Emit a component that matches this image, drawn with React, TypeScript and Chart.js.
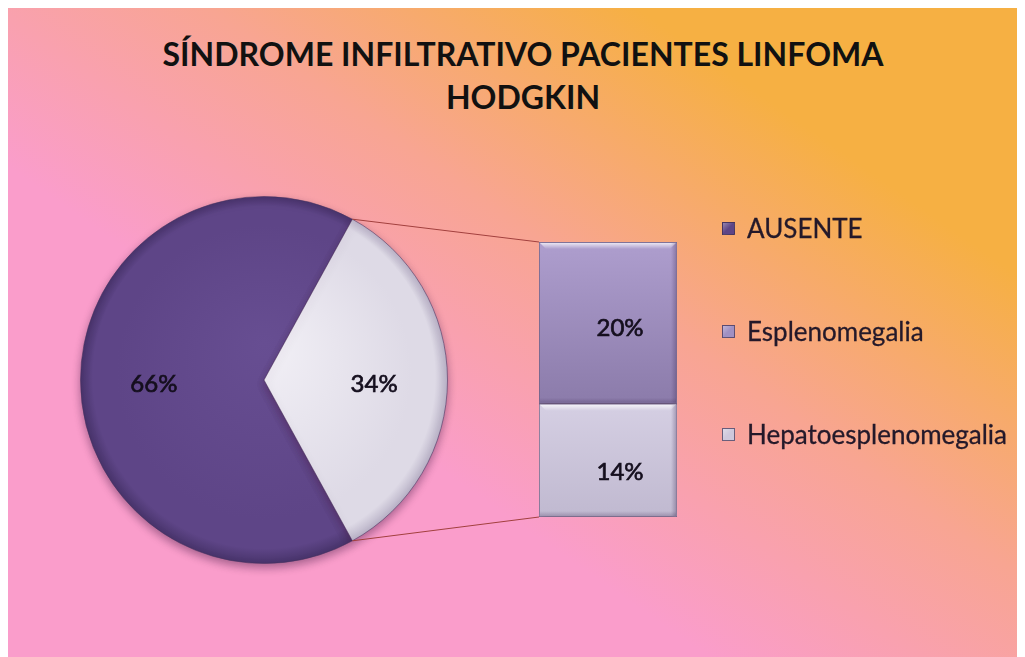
import React, { useEffect, useRef } from 'react';
import { Chart, registerables } from 'chart.js';

Chart.register(...registerables);

// ---- data ----
const categories = ['AUSENTE', 'Esplenomegalia', 'Hepatoesplenomegalia'];
const percentValues = [66, 20, 14];
const titleLines = ['SÍNDROME INFILTRATIVO PACIENTES LINFOMA', 'HODGKIN'];
const seriesColors = ['#5E4586', '#A090C2', '#CEC8DC'];

const W = 1018;
const H = 650;
const FONT = 'Lato, "Open Sans", sans-serif';
const LABEL_COLOR = '#150f1e';

const pct = (v: number) => `${v}%`;

function drawLabel(ctx: CanvasRenderingContext2D, text: string, x: number, y: number) {
  ctx.fillText(text, x, y);
  ctx.strokeText(text, x, y);
}

export default function App() {
  const pieRef = useRef<HTMLCanvasElement | null>(null);
  const barRef = useRef<HTMLCanvasElement | null>(null);

  useEffect(() => {
    if (!pieRef.current || !barRef.current) return;

    const otherTotal = percentValues[1] + percentValues[2];
    const pieData = [percentValues[0], otherTotal];
    const total = pieData[0] + pieData[1];
    const rotation = 180 * (pieData[1] / total) - 270;

    const setLabelStyle = (ctx: CanvasRenderingContext2D) => {
      ctx.font = `400 24px ${FONT}`;
      ctx.fillStyle = LABEL_COLOR;
      ctx.strokeStyle = LABEL_COLOR;
      ctx.lineWidth = 0.7;
      ctx.textAlign = 'center';
      ctx.textBaseline = 'middle';
    };

    const pieShadow = {
      id: 'pieShadow',
      beforeDatasetsDraw(chart: any) {
        const ctx = chart.ctx;
        ctx.save();
        ctx.shadowColor = 'rgba(70,30,70,0.45)';
        ctx.shadowBlur = 9;
        ctx.shadowOffsetY = 4;
      },
      afterDatasetsDraw(chart: any) {
        chart.ctx.restore();
      },
    };

    const pieLabels = {
      id: 'pieLabels',
      afterDraw(chart: any) {
        const ctx = chart.ctx;
        const meta = chart.getDatasetMeta(0);
        ctx.save();
        setLabelStyle(ctx);
        meta.data.forEach((arc: any, i: number) => {
          const p = arc.getProps(['x', 'y', 'startAngle', 'endAngle', 'outerRadius'], true);
          const mid = (p.startAngle + p.endAngle) / 2;
          const r = p.outerRadius * 0.6;
          drawLabel(ctx, pct(pieData[i]), p.x + Math.cos(mid) * r, p.y + Math.sin(mid) * r + 4);
        });
        ctx.restore();
      },
    };

    const pieStyles = [
      { base: '#5E4587', center: '#674E92', rim: '#47336A' },
      { base: '#DEDAE6', center: '#F2F0F6', rim: '#B8B1C6' },
    ];

    const pieFill = (c: any) => {
      const s = pieStyles[c.dataIndex] || pieStyles[0];
      const chart = c.chart;
      const a = chart.chartArea;
      if (!a) return s.base;
      const cx = (a.left + a.right) / 2;
      const cy = (a.top + a.bottom) / 2;
      const r = Math.min(a.width, a.height) / 2;
      const g = chart.ctx.createRadialGradient(cx, cy - r * 0.2, 0, cx, cy, r);
      g.addColorStop(0, s.center);
      g.addColorStop(0.8, s.base);
      g.addColorStop(0.93, s.base);
      g.addColorStop(1, s.rim);
      return g;
    };

    const pie = new Chart(pieRef.current, {
      type: 'pie',
      data: {
        labels: [categories[0], `${categories[1]} + ${categories[2]}`],
        datasets: [
          {
            data: pieData,
            backgroundColor: pieFill as any,
            borderColor: 'rgba(70,50,95,0.55)',
            borderWidth: 1,
          },
        ],
      },
      options: {
        animation: false,
        responsive: false,
        rotation,
        layout: { padding: { left: 73, top: 189, right: 577, bottom: 93 } },
        plugins: {
          legend: { display: false },
          tooltip: { enabled: false },
          title: { display: false },
        },
      } as any,
      plugins: [pieShadow, pieLabels],
    });

    const barLabelOffsetY = [12, 5];

    const connector = {
      id: 'connector',
      beforeDatasetsDraw(chart: any) {
        const pieMeta = pie.getDatasetMeta(0);
        const arc: any = pieMeta.data[1];
        if (!arc) return;
        const p = arc.getProps(['x', 'y', 'startAngle', 'endAngle', 'outerRadius'], true);
        const topEl: any = chart.getDatasetMeta(1).data[0];
        const botEl: any = chart.getDatasetMeta(0).data[0];
        const t = topEl.getProps(['x', 'y', 'width'], true);
        const b = botEl.getProps(['x', 'base', 'width'], true);
        const ctx = chart.ctx;
        ctx.save();
        ctx.strokeStyle = '#A2403E';
        ctx.lineWidth = 1;
        ctx.beginPath();
        ctx.moveTo(p.x + Math.cos(p.startAngle) * p.outerRadius, p.y + Math.sin(p.startAngle) * p.outerRadius);
        ctx.lineTo(t.x - t.width / 2, t.y);
        ctx.moveTo(p.x + Math.cos(p.endAngle) * p.outerRadius, p.y + Math.sin(p.endAngle) * p.outerRadius);
        ctx.lineTo(b.x - b.width / 2, b.base);
        ctx.stroke();
        ctx.restore();
        ctx.save();
        ctx.shadowColor = 'rgba(70,30,70,0.4)';
        ctx.shadowBlur = 7;
        ctx.shadowOffsetY = 3;
      },
      afterDatasetsDraw(chart: any) {
        const ctx = chart.ctx;
        ctx.restore();
        [0, 1].forEach((di) => {
          const el: any = chart.getDatasetMeta(di).data[0];
          const p = el.getProps(['x', 'y', 'base', 'width'], true);
          const left = p.x - p.width / 2;
          const right = p.x + p.width / 2;
          const top = Math.min(p.y, p.base);
          const bottom = Math.max(p.y, p.base);
          ctx.save();
          const g = ctx.createLinearGradient(0, top, 0, top + 7);
          g.addColorStop(0, 'rgba(255,255,255,0.85)');
          g.addColorStop(1, 'rgba(255,255,255,0)');
          ctx.fillStyle = g;
          ctx.beginPath();
          ctx.moveTo(left + 1, top + 1);
          ctx.lineTo(right - 1, top + 1);
          ctx.lineTo(right - 8, top + 8);
          ctx.lineTo(left + 8, top + 8);
          ctx.closePath();
          ctx.fill();
          const gr = ctx.createLinearGradient(right - 6, 0, right, 0);
          gr.addColorStop(0, 'rgba(60,40,80,0)');
          gr.addColorStop(1, 'rgba(60,40,80,0.35)');
          ctx.fillStyle = gr;
          ctx.fillRect(right - 6, top + 1, 5, bottom - top - 2);
          const gb = ctx.createLinearGradient(0, bottom - 6, 0, bottom);
          gb.addColorStop(0, 'rgba(60,40,80,0)');
          gb.addColorStop(1, 'rgba(60,40,80,0.3)');
          ctx.fillStyle = gb;
          ctx.fillRect(left + 1, bottom - 6, p.width - 2, 5);
          ctx.restore();
        });
      },
      afterDraw(chart: any) {
        const ctx = chart.ctx;
        ctx.save();
        setLabelStyle(ctx);
        chart.data.datasets.forEach((ds: any, di: number) => {
          const el: any = chart.getDatasetMeta(di).data[0];
          const p = el.getProps(['x', 'y', 'base'], true);
          drawLabel(ctx, pct(ds.data[0]), p.x + 12, (p.y + p.base) / 2 + barLabelOffsetY[di]);
        });
        ctx.restore();
      },
    };

    const barFill = (topColor: string, bottomColor: string, from: number, to: number) => (c: any) => {
      const chart = c.chart;
      const a = chart.chartArea;
      if (!a || !chart.scales.y) return topColor;
      const ys = chart.scales.y;
      const y0 = ys.getPixelForValue(to);
      const y1 = ys.getPixelForValue(from);
      const g = chart.ctx.createLinearGradient(0, y0, 0, y1);
      g.addColorStop(0, topColor);
      g.addColorStop(1, bottomColor);
      return g;
    };

    const bar = new Chart(barRef.current, {
      type: 'bar',
      data: {
        labels: [''],
        datasets: [
          {
            label: categories[2],
            data: [percentValues[2]],
            backgroundColor: barFill('#D5CFE3', '#C0B9D0', 0, percentValues[2]) as any,
            borderColor: '#74688A',
            borderWidth: 1,
            borderSkipped: false,
          },
          {
            label: categories[1],
            data: [percentValues[1]],
            backgroundColor: barFill('#AE9ECE', '#8B7BAA', percentValues[2], otherTotal) as any,
            borderColor: '#74688A',
            borderWidth: 1,
            borderSkipped: false,
          },
        ],
      },
      options: {
        animation: false,
        responsive: false,
        layout: { padding: { left: 532, right: 348, top: 235, bottom: 140 } },
        datasets: { bar: { categoryPercentage: 1, barPercentage: 1 } },
        scales: {
          x: { display: false, stacked: true },
          y: { display: false, stacked: true, min: 0, max: otherTotal },
        },
        plugins: {
          legend: { display: false },
          tooltip: { enabled: false },
        },
      } as any,
      plugins: [connector],
    });

    return () => {
      bar.destroy();
      pie.destroy();
    };
  }, []);

  const legendTops = [221, 324, 427];

  return (
    <div
      style={{
        position: 'relative',
        width: W,
        height: H,
        marginLeft: -1,
        marginTop: -1,
        overflow: 'hidden',
        background: 'linear-gradient(35deg, #FA9DCB 36%, #F8A592 58%, #F6B043 80%)',
        fontFamily: FONT,
      }}
    >
      <div
        style={{
          position: 'absolute',
          left: 0,
          top: 25,
          width: W,
          paddingLeft: 14,
          boxSizing: 'border-box',
          textAlign: 'center',
          fontWeight: 700,
          fontSize: 32,
          lineHeight: '43px',
          color: '#111111',
        }}
      >
        {titleLines.map((t, i) => (
          <div key={i}>{t}</div>
        ))}
      </div>
      <canvas ref={pieRef} width={W} height={H} style={{ position: 'absolute', left: 0, top: 0 }} />
      <canvas ref={barRef} width={W} height={H} style={{ position: 'absolute', left: 0, top: 0 }} />
      {categories.map((c, i) => (
        <div
          key={c}
          style={{
            position: 'absolute',
            left: 715,
            top: legendTops[i] - 16,
            height: 32,
            display: 'flex',
            alignItems: 'center',
            fontSize: 26,
            color: '#24192a',
            whiteSpace: 'nowrap',
            WebkitTextStroke: '0.3px #24192a',
          }}
        >
          <span
            style={{
              display: 'inline-block',
              width: 11,
              height: 11,
              marginRight: 12,
              border: '1px solid rgba(60,45,80,0.7)',
              background: `linear-gradient(135deg, rgba(255,255,255,0.35), rgba(255,255,255,0) 50%), ${seriesColors[i]}`,
            }}
          />
          <span>{c}</span>
        </div>
      ))}
    </div>
  );
}
